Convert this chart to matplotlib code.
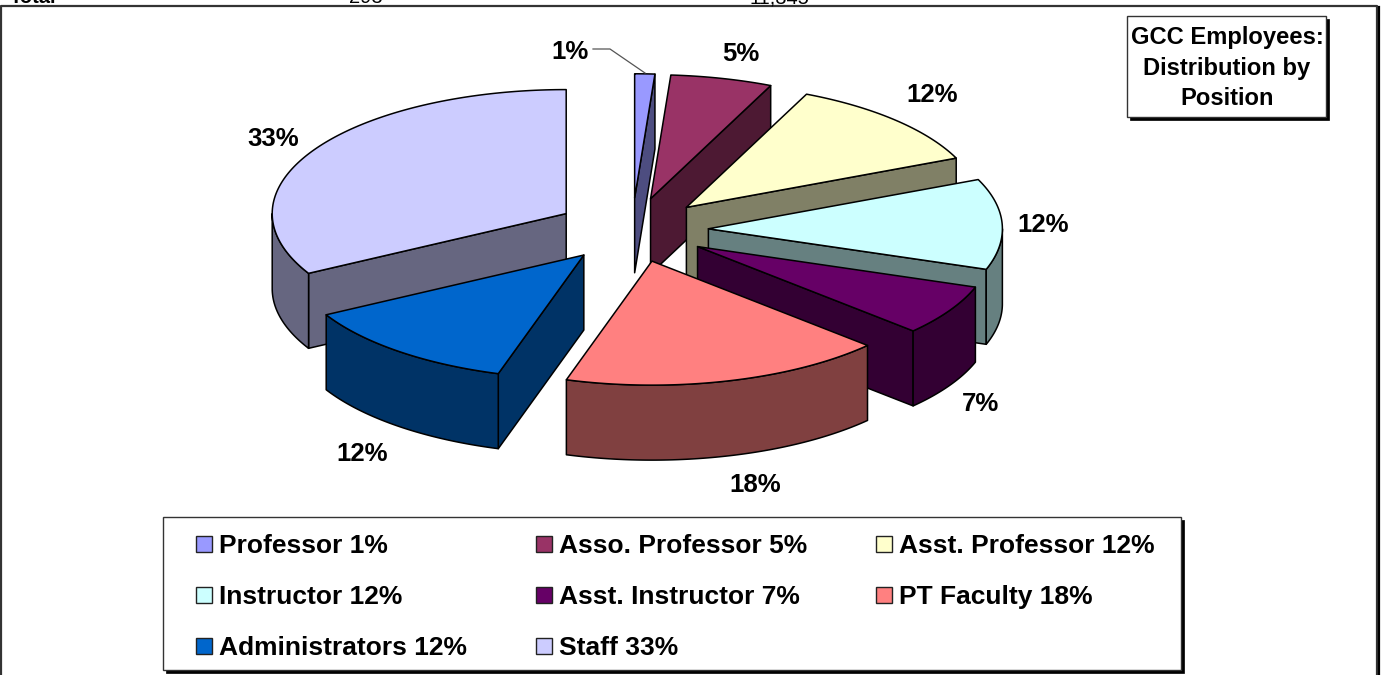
import numpy as np
import matplotlib
matplotlib.use('Agg')
import matplotlib.pyplot as plt
from matplotlib.patches import Polygon, Rectangle

plt.rcParams['font.family'] = ['Liberation Sans', 'DejaVu Sans']

# share of each position (%)
positions = ['Professor', 'Asso. Professor', 'Asst. Professor', 'Instructor',
             'Asst. Instructor', 'PT Faculty', 'Administrators', 'Staff']
shares = [1.1, 5.6, 11.8, 11.8, 6.6, 17.8, 12.3, 33.0]
pct_labels = ['1%', '5%', '12%', '12%', '7%', '18%', '12%', '33%']
top_colors = ['#9999FF', '#993366', '#FFFFCC', '#CCFFFF',
              '#660066', '#FF8080', '#0066CC', '#CCCCFF']
side_colors = ['#4D4D80', '#4D1933', '#808066', '#668080',
               '#330033', '#804040', '#003366', '#666680']
# where the percent labels sit, in pixels
label_xy = [(570, 52), (741, 54), (932, 95), (1043, 225),
            (981, 404), (755, 485), (362, 454), (273, 139)]
title_lines = 'GCC Employees:\nDistribution by\nPosition'

CX, CY = 632, 230     # pie centre
RX, RY = 294, 124     # ellipse radii of the top face
DEPTH = 75
EXPLODE = 0.26
EDGE = '#000000'
LW = 1.1


def rim(cx, cy, t):
    """Point on the ellipse, t in degrees clockwise from 12 o'clock."""
    t = np.radians(t)
    return np.column_stack([cx + RX * np.sin(t), cy - RY * np.cos(t)])


def face(ax, pts, color, z):
    ax.add_patch(Polygon(pts, closed=True, facecolor=color, edgecolor=EDGE,
                         linewidth=LW, joinstyle='round', zorder=z))


def wall(ax, apex, pt, color, z):
    pts = [apex, pt, (pt[0], pt[1] + DEPTH), (apex[0], apex[1] + DEPTH)]
    face(ax, pts, color, z)


def draw_slice(ax, t1, t2, top, side, z):
    mid = np.radians((t1 + t2) / 2)
    cx = CX + EXPLODE * RX * np.sin(mid)
    cy = CY - EXPLODE * RY * np.cos(mid)
    apex = (cx, cy)
    ts = np.linspace(t1, t2, 120)
    arc = rim(cx, cy, ts)

    # radial walls that face the viewer
    if t1 > 180:
        wall(ax, apex, rim(cx, cy, t1)[0], side, z)
    if t2 < 180:
        wall(ax, apex, rim(cx, cy, t2)[0], side, z)

    # front part of the outer wall
    lo, hi = max(t1, 90), min(t2, 270)
    if lo < hi:
        front = rim(cx, cy, np.linspace(lo, hi, 120))
        low = front + [0, DEPTH]
        face(ax, np.vstack([front, low[::-1]]), side, z)

    face(ax, np.vstack([[apex], arc]), top, z + 0.5)


def shadow_box(ax, x0, y0, x1, y1, z):
    ax.add_patch(Rectangle((x0 + 3, y0 + 3), x1 - x0, y1 - y0, facecolor='black',
                           edgecolor='black', linewidth=0.5, zorder=z))
    ax.add_patch(Rectangle((x0, y0), x1 - x0, y1 - y0, facecolor='white',
                           edgecolor='#333333', linewidth=1.0, zorder=z + 0.1))


fig = plt.figure(figsize=(13.82, 6.75), dpi=100, facecolor='white')
ax = fig.add_axes([0, 0, 1, 1])
ax.set_xlim(0, 1382)
ax.set_ylim(675, 0)
ax.axis('off')

# chart frame, runs off the bottom of the crop
ax.plot([1.5, 1.5, 1377, 1377], [680, 5.5, 5.5, 680], color='#333333', lw=1.6, zorder=1)
ax.plot([1379, 1379], [7, 680], color='black', lw=1.6, zorder=1)

# last row of the table above the chart, cut by the crop
for x, s, w in [(10, 'Total', 'bold'), (349, '293', 'normal'), (750, '11,345', 'normal')]:
    ax.text(x, 3, s, fontsize=14.5, fontweight=w, ha='left', va='baseline', zorder=1)

# draw order: back slices first, PT Faculty last
edges = np.concatenate([[0], np.cumsum(shares)]) / sum(shares) * 360
order = [7, 0, 1, 2, 3, 4, 6, 5]
for n, i in enumerate(order):
    draw_slice(ax, edges[i], edges[i + 1], top_colors[i], side_colors[i], 2 + n)

for s, (x, y) in zip(pct_labels, label_xy):
    ax.text(x, y, s, fontsize=18.5, fontweight='bold', ha='center', va='center', zorder=20)

# leader line for the 1% label
ax.plot([593, 610, 645], [49, 49, 73], color='#555555', lw=0.9, zorder=20)

# title box
shadow_box(ax, 1127, 16, 1326, 117, 21)
ax.text(1227, 68, title_lines, fontsize=17.1, fontweight='bold', ha='center',
        va='center', linespacing=1.4, zorder=22)

# legend
shadow_box(ax, 163, 517, 1181, 670, 21)
col_x = [196, 536, 876]
row_y = [544, 595, 646]
for i, name in enumerate(positions):
    x = col_x[i % 3]
    y = row_y[i // 3]
    ax.add_patch(Rectangle((x, y - 8), 16, 16, facecolor=top_colors[i], edgecolor='#222222',
                           linewidth=1.0, zorder=22))
    ax.text(x + 23, y + 9, name + ' ' + pct_labels[i], fontsize=19, fontweight='bold',
            ha='left', va='baseline', zorder=22)

fig.savefig('out.png', dpi=100, facecolor='white')
